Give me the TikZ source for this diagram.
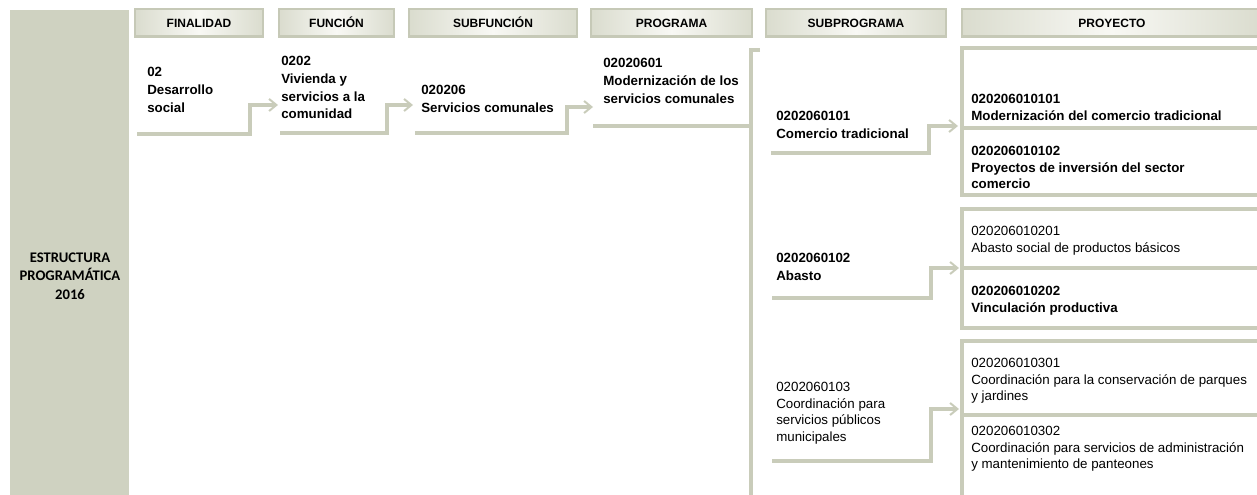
\documentclass[tikz,border=0pt]{standalone}
\usepackage{fontspec}
\setmainfont{Liberation Sans}
\newfontfamily\calibfont{Carlito}
\usetikzlibrary{arrows.meta}
\definecolor{blk}{HTML}{CFD2C1}
\definecolor{lnc}{HTML}{C9CCBA}
\definecolor{hdedge}{HTML}{DADCCE}
\definecolor{hdmid}{HTML}{F8F8F4}
\definecolor{hdbord}{HTML}{C6C9B7}
\begin{document}
\begin{tikzpicture}[x=0.75pt,y=-0.75pt,
  hdr/.style={rectangle, inner sep=0, minimum height=21pt,
    text height=6.6pt, text depth=0pt,
    left color=hdedge, right color=hdedge, middle color=hdmid,
    draw=hdbord, line width=0.8pt, font=\fontsize{9}{11}\selectfont\bfseries,
    path picture={\draw[hdbord, line width=3.5pt]
      (path picture bounding box.south west) -- (path picture bounding box.south east);}},
  ctxt/.style={anchor=north west, inner sep=0, align=left,
    font=\fontsize{10}{13.3}\selectfont\bfseries},
  ptxtb/.style={anchor=north west, inner sep=0, align=left,
    font=\fontsize{10}{12.4}\selectfont\bfseries},
  ptxtr/.style={anchor=north west, inner sep=0, align=left,
    font=\fontsize{10}{12.4}\selectfont},
  conn/.style={draw=lnc, line width=2.3pt, line join=miter,
    -{Straight Barb[length=5.5pt,width=9pt,line width=1.5pt]}},
  plain/.style={draw=lnc, line width=2.3pt, line join=miter},
  boxln/.style={draw=lnc, line width=2.3pt}
]
\useasboundingbox (0,0) rectangle (1257,495);

% left block
\fill[blk] (10,10) rectangle (129,495);
\node[align=center, inner sep=0, font=\fontsize{11}{13.7}\selectfont\calibfont\bfseries]
  (title) at (70,276) {ESTRUCTURA\\PROGRAMÁTICA\\2016};

% headers
\node[hdr, minimum width=96pt]  (h1) at (199,23)   {FINALIDAD};
\node[hdr, minimum width=86.25pt] (h2) at (336.5,23) {FUNCIÓN};
\node[hdr, minimum width=126pt] (h3) at (493,23)   {SUBFUNCIÓN};
\node[hdr, minimum width=120.75pt] (h4) at (671.5,23) {PROGRAMA};
\node[hdr, minimum width=135pt] (h5) at (856,23)   {SUBPROGRAMA};
\node[hdr, minimum width=225pt] (h6) at (1112,23)  {PROYECTO};

% column texts
\node[ctxt] (fin)  at (147,67)  {02\\Desarrollo\\social};
\node[ctxt] (fun)  at (281,56)  {0202\\Vivienda y\\servicios a la\\comunidad};
\node[ctxt] (subf) at (421,85)  {020206\\Servicios comunales};
\node[ctxt] (prog) at (603,58)  {02020601\\Modernización de los\\servicios comunales};
\node[ctxt] (sp1)  at (776,111) {0202060101\\Comercio tradicional};
\node[ctxt] (sp2)  at (776,253) {0202060102\\Abasto};
\node[ptxtr] (sp3) at (776,382) {0202060103\\Coordinación para\\servicios públicos\\municipales};

% project boxes
\draw[boxln] (1257,48) -- (962,48) -- (962,195) -- (1257,195);
\draw[boxln] (962,128) -- (1257,128);
\draw[boxln] (1257,209) -- (962,209) -- (962,328) -- (1257,328);
\draw[boxln] (962,268) -- (1257,268);
\draw[boxln] (1257,341) -- (962,341) -- (962,495);
\draw[boxln] (962,415) -- (1257,415);

\node[ptxtb] (p1) at (971,94)  {020206010101\\Modernización del comercio tradicional};
\node[ptxtb] (p2) at (971,146) {020206010102\\Proyectos de inversión del sector\\comercio};
\node[ptxtr] (p3) at (971,226) {020206010201\\Abasto social de productos básicos};
\node[ptxtb] (p4) at (971,286) {020206010202\\Vinculación productiva};
\node[ptxtr] (p5) at (971,358) {020206010301\\Coordinación para la conservación de parques\\y jardines};
\node[ptxtr] (p6) at (971,426) {020206010302\\Coordinación para servicios de administración\\y mantenimiento de panteones};

% connector coordinates
\coordinate (fin-o) at (137,134);
\coordinate (fun-i) at (278,105);
\coordinate (fun-o) at (280,133);
\coordinate (subf-i) at (413,105);
\coordinate (subf-o) at (415,133);
\coordinate (prog-i) at (593,107);
\coordinate (prog-o) at (593,126);
\coordinate (brk-t) at (760,50);
\coordinate (brk-b) at (751,495);
\coordinate (sp1-o) at (771,153);
\coordinate (pa-i) at (958,126);
\coordinate (sp2-o) at (772,298);
\coordinate (pb-i) at (959,268);
\coordinate (sp3-o) at (772,461);
\coordinate (pc-i) at (959,409);

\draw[conn] (fin-o) -- (250,134) |- (fun-i);
\draw[conn] (fun-o) -- (387,133) |- (subf-i);
\draw[conn] (subf-o) -- (567,133) |- (prog-i);
\draw[plain] (prog-o) -- (751,126);
\draw[plain] (brk-t) -- (751,50) -- (brk-b);
\draw[conn] (sp1-o) -- (929,153) |- (pa-i);
\draw[conn] (sp2-o) -- (931,298) |- (pb-i);
\draw[conn] (sp3-o) -- (931,461) |- (pc-i);
\end{tikzpicture}
\end{document}
